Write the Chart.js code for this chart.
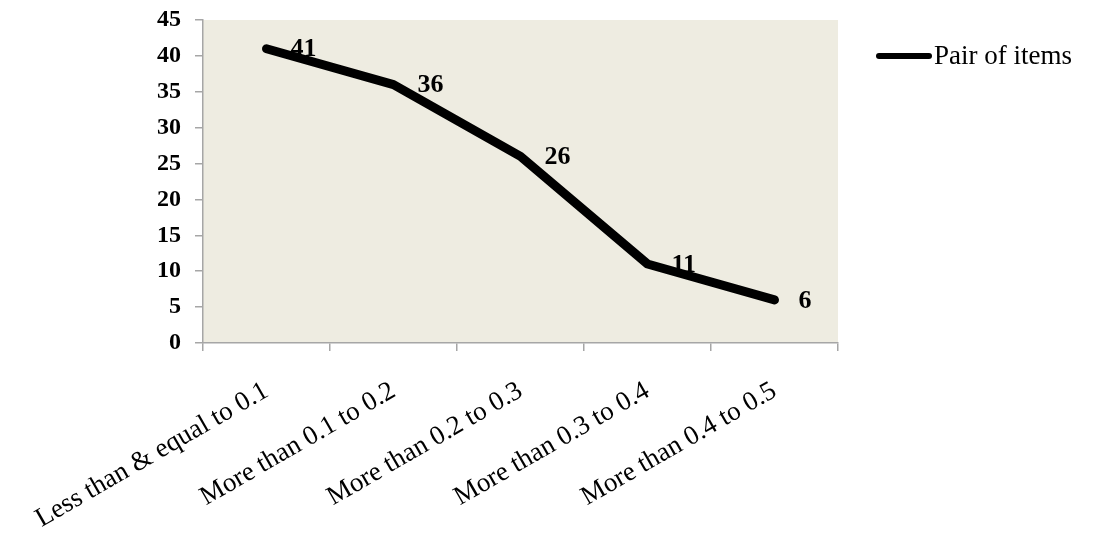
<!DOCTYPE html>
<html>
<head>
<meta charset="utf-8">
<script src="https://cdn.jsdelivr.net/npm/chart.js@4"></script>
<style>
  html, body { margin: 0; padding: 0; background: #fff; }
  #wrap { position: relative; width: 1093px; height: 535px; }
  #legend {
    position: absolute; left: 876px; top: 40px;
    font: 27px "Liberation Serif", "Times New Roman", serif; color: #000;
    display: flex; align-items: center; white-space: nowrap;
  }
  #legend .swatch { width: 56px; height: 6px; background: #000; border-radius: 3px; margin-right: 2px; }
</style>
</head>
<body>
<div id="wrap">
  <canvas id="chart" width="1093" height="535"></canvas>
  <div id="legend"><span class="swatch"></span><span>Pair of items</span></div>
</div>
<script>
const categories = [
  "Less than & equal to 0.1",
  "More than 0.1 to 0.2",
  "More than 0.2 to 0.3",
  "More than 0.3 to 0.4",
  "More than 0.4 to 0.5"
];
const pairValues = [41, 36, 26, 11, 6];
const seriesName = "Pair of items";

const serif = '"Liberation Serif", "Times New Roman", serif';

// beige plot area
const plotBackground = {
  id: "plotBackground",
  beforeDraw(chart) {
    const { ctx, chartArea } = chart;
    ctx.save();
    ctx.fillStyle = "#eeece1";
    ctx.fillRect(chartArea.left, chartArea.top, chartArea.right - chartArea.left, chartArea.bottom - chartArea.top);
    ctx.restore();
  }
};

// value labels to the right of each point
const valueLabels = {
  id: "valueLabels",
  afterDatasetsDraw(chart) {
    const { ctx } = chart;
    const meta = chart.getDatasetMeta(0);
    ctx.save();
    ctx.font = "bold 26px " + serif;
    ctx.fillStyle = "#000";
    ctx.textAlign = "left";
    ctx.textBaseline = "middle";
    meta.data.forEach((pt, i) => {
      ctx.fillText(String(pairValues[i]), pt.x + 24, pt.y + 1);
    });
    ctx.restore();
  }
};

const ctx = document.getElementById("chart").getContext("2d");
new Chart(ctx, {
  type: "line",
  data: {
    labels: categories,
    datasets: [
      {
        label: seriesName,
        data: pairValues,
        borderColor: "#000",
        borderWidth: 9,
        borderCapStyle: "round",
        borderJoinStyle: "round",
        pointRadius: 0,
        fill: false,
        tension: 0
      }
    ]
  },
  options: {
    responsive: false,
    animation: false,
    layout: { padding: { top: 20, right: 255, bottom: 0, left: 0 } },
    plugins: {
      legend: { display: false },
      tooltip: { enabled: false }
    },
    scales: {
      x: {
        offset: true,
        grid: { offset: true, drawOnChartArea: false, drawTicks: true, tickLength: 8, color: "#a6a6a6", lineWidth: 1.5 },
        border: { color: "#a6a6a6", width: 1.5 },
        ticks: {
          color: "#000",
          font: { family: serif, size: 27 },
          minRotation: 30,
          maxRotation: 30,
          autoSkip: false,
          padding: 24
        },
        afterFit(scale) {
          scale.height = 192;
          scale.paddingLeft = 0;
          scale.paddingRight = 0;
        }
      },
      y: {
        min: 0,
        max: 45,
        grid: { drawOnChartArea: false, drawTicks: true, tickLength: 8, color: "#a6a6a6", lineWidth: 1.5 },
        border: { color: "#a6a6a6", width: 1.5 },
        ticks: {
          stepSize: 5,
          color: "#000",
          font: { family: serif, size: 24, weight: "bold" },
          padding: 14
        },
        afterFit(scale) {
          scale.width = 203;
          scale.paddingTop = 0;
        }
      }
    }
  },
  plugins: [plotBackground, valueLabels]
});
</script>
</body>
</html>
